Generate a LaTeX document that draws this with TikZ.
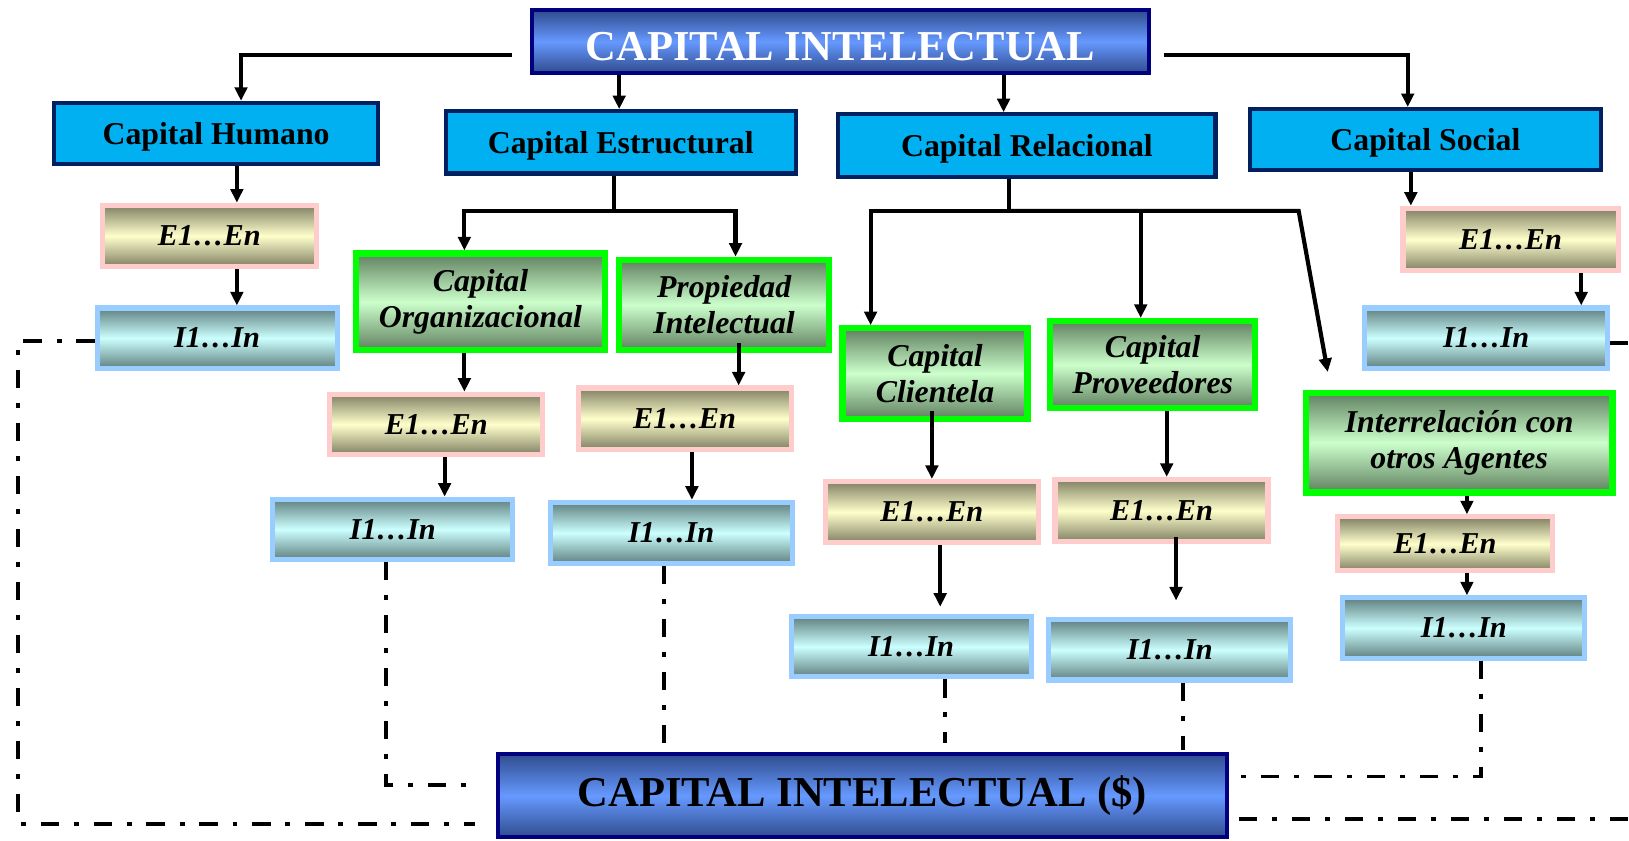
\documentclass[tikz,border=0pt]{standalone}
\usepackage{fontspec}
\setmainfont{Liberation Serif}
\usetikzlibrary{arrows.meta}

\definecolor{marino}{RGB}{0,0,128}
\definecolor{azulosc}{RGB}{48,76,142}
\definecolor{azulcl}{RGB}{102,153,255}
\definecolor{bordeazul}{RGB}{0,32,96}
\definecolor{cian}{RGB}{0,176,240}
\definecolor{verde}{RGB}{0,255,0}
\definecolor{verdeosc}{RGB}{96,128,96}
\definecolor{verdecl}{RGB}{204,255,204}
\definecolor{rosa}{RGB}{255,204,204}
\definecolor{oliva}{RGB}{128,128,100}
\definecolor{crema}{RGB}{255,255,204}
\definecolor{celeste}{RGB}{153,204,255}
\definecolor{grisazul}{RGB}{96,128,128}
\definecolor{aqua}{RGB}{204,255,255}

\begin{document}
\begin{tikzpicture}[
		x = 0.5pt, y = -0.5pt,
		caja/.style = {draw, inner sep = 0pt, align = center},
		titulo/.style = {caja, draw = marino, line width = 2pt, top color = azulosc, bottom color = azulosc, middle color = azulcl, font = \fontsize{20.5}{24}\selectfont\bfseries},
		rama/.style = {caja, draw = bordeazul, line width = 2pt, fill = cian, text depth = 0pt, font = \fontsize{15.3}{18}\selectfont\bfseries},
		sub/.style = {caja, draw = verde, line width = 3pt, top color = verdeosc, bottom color = verdeosc, middle color = verdecl, font = \fontsize{15.3}{17.5}\selectfont\bfseries\itshape},
		ecaja/.style = {caja, draw = rosa, line width = 2.5pt, top color = oliva, bottom color = oliva, middle color = crema, minimum width = 102.5pt, minimum height = 29.5pt, font = \fontsize{14.6}{17}\selectfont\bfseries\itshape},
		icaja/.style = {caja, draw = celeste, line width = 2.5pt, top color = grisazul, bottom color = grisazul, middle color = aqua, minimum width = 116pt, minimum height = 29pt, font = \fontsize{14.6}{17}\selectfont\bfseries\itshape},
		flecha/.style = {line width = 2pt, -{Triangle[length = 6.5pt, width = 6pt]}},
		linea/.style = {line width = 2pt},
		punteada/.style = {line width = 1.8pt, dash pattern = on 8.7pt off 7.2pt on 2.4pt off 7.2pt}
	]

	\useasboundingbox (0,0) rectangle (1568,809);
	\clip (0,0) rectangle (1568,809);

	\node[titulo, text = white, text height = 18.5pt, text depth = 0pt, minimum width = 297pt, minimum height = 30pt] (ci) at (809,40) {CAPITAL INTELECTUAL};

	\node[rama, minimum width = 156pt, minimum height = 29.5pt] (hum) at (208,128.5) {Capital Humano};
	\node[rama, minimum width = 168.5pt, minimum height = 30pt] (est) at (597.5,137) {Capital Estructural};
	\node[rama, minimum width = 181.5pt, minimum height = 30pt] (rel) at (988.5,140) {Capital Relacional};
	\node[rama, minimum width = 169pt, minimum height = 29.5pt] (soc) at (1372,134.5) {Capital Social};

	\node[sub, minimum width = 119.5pt, minimum height = 46.5pt] (org) at (462.5,290.5) {Capital\\Organizacional};
	\node[sub, minimum width = 101pt, minimum height = 43.5pt] (prop) at (697,293.5) {Propiedad\\Intelectual};
	\node[sub, minimum width = 89pt, minimum height = 43.5pt] (cli) at (900,359.5) {Capital\\Clientela};
	\node[sub, minimum width = 98.5pt, minimum height = 42pt] (prov) at (1109.5,351) {Capital\\Proveedores};
	\node[sub, minimum width = 147.5pt, minimum height = 48pt] (inter) at (1404.5,426) {Interrelación con\\otros Agentes};

	\node[ecaja, minimum width = 103pt] (eh) at (201.5,227) {E1…En};
	\node[ecaja, minimum height = 29pt] (eo) at (420,408.5) {E1…En};
	\node[ecaja] (ep) at (659,403) {E1…En};
	\node[ecaja] (ec) at (897,493) {E1…En};
	\node[ecaja, minimum height = 30pt] (ev) at (1118,491.5) {E1…En};
	\node[ecaja, minimum width = 103.5pt, minimum height = 26pt] (ea) at (1391,523.5) {E1…En};
	\node[ecaja, minimum width = 103.5pt, minimum height = 30pt] (es) at (1454,230.5) {E1…En};

	\node[icaja, minimum width = 115.5pt] (ih) at (209,325.5) {I1…In};
	\node[icaja, minimum width = 115.5pt] (io) at (378,509.5) {I1…In};
	\node[icaja, minimum width = 116.5pt, minimum height = 29.5pt] (ip) at (646,513) {I1…In};
	\node[icaja, minimum width = 115.5pt] (ic) at (877,622.5) {I1…In};
	\node[icaja, minimum width = 116.5pt] (iv) at (1126,625.5) {I1…In};
	\node[icaja, minimum width = 116.5pt] (ia) at (1409,604.5) {I1…In};
	\node[icaja, minimum width = 117pt] (is) at (1430.5,325.5) {I1…In};

	\node[titulo, minimum width = 351pt, minimum height = 40pt] (cid) at (830,766) {CAPITAL INTELECTUAL (\$)};

	\coordinate (uest) at (591,203);
	\coordinate (urel) at (971,203);
	\coordinate (krel) at (1250,203);
	\coordinate (esq) at (17,793);

	\draw[flecha, shorten <= 8.5pt] ([yshift = -6.5pt]ci.west) -| ([xshift = 12pt]hum.north);
	\draw[flecha, shorten <= 6pt] ([yshift = -6.5pt]ci.east) -| ([xshift = -8.5pt]soc.north);
	\draw[flecha] ([xshift = -106.5pt]ci.south) -- ([xshift = -0.75pt]est.north);
	\draw[flecha] ([xshift = 78.5pt]ci.south) -- ([xshift = -11.25pt]rel.north);

	\draw[linea] ([xshift = -3.25pt]est.south) -- (uest);
	\draw[flecha] (uest) -| ([xshift = -7.75pt]org.north);
	\draw[flecha] (uest) -| ([xshift = 5.5pt]prop.north);

	\draw[linea] ([xshift = -8.75pt]rel.south) -- (urel);
	\draw[flecha] (urel) -| ([xshift = -31pt]cli.north);
	\draw[flecha] (urel) -| ([xshift = -5.75pt]prov.north);
	\draw[flecha] (urel) -- (krel) -- ([xshift = -63.25pt, yshift = 8.5pt]inter.north);

	\draw[flecha] ([xshift = 10pt]hum.south) -- ([xshift = 13.25pt]eh.north);
	\draw[flecha] ([xshift = 13.25pt]eh.south) -- ([xshift = 9.5pt]ih.north);
	\draw[flecha] ([xshift = -7.75pt]org.south) -- ([xshift = 13.5pt]eo.north);
	\draw[flecha] ([xshift = 4pt]eo.south) -- ([xshift = 25pt]io.north);
	\draw[flecha] ([xshift = 7pt, yshift = 5pt]prop.south) -- ([xshift = 26pt]ep.north);
	\draw[flecha] ([xshift = 3.5pt]ep.south) -- ([xshift = 10pt]ip.north);
	\draw[flecha] ([xshift = -1.5pt, yshift = 5pt]cli.south) -- (ec.north);
	\draw[flecha] ([xshift = 4pt]ec.south) -- ([xshift = 14pt, yshift = 3.5pt]ic.north);
	\draw[flecha] ([xshift = 6.75pt]prov.south) -- ([xshift = 2.5pt]ev.north);
	\draw[flecha] ([xshift = 7pt, yshift = 3.5pt]ev.south) -- ([xshift = 3pt, yshift = 8pt]iv.north);
	\draw[flecha] ([xshift = 3.75pt]inter.south) -- ([xshift = 10.5pt]ea.north);
	\draw[flecha] ([xshift = 10.5pt]ea.south) -- ([xshift = 1.5pt]ia.north);
	\draw[flecha] ([xshift = -7pt]soc.south) -- ([xshift = -48pt]es.north);
	\draw[flecha] ([xshift = 34pt]es.south) -- ([xshift = 45.75pt]is.north);

	\draw[punteada, shorten >= 10pt] ([yshift = -1.25pt]ih.west) -| (esq) -- ([yshift = -13.5pt]cid.west);
	\draw[punteada, shorten >= 10pt] ([xshift = -3.25pt]io.south) |- ([yshift = 5.2pt]cid.west);
	\draw[punteada] ([xshift = -3.5pt]ip.south) -- ([xshift = -95.5pt, yshift = 4.5pt]cid.north);
	\draw[punteada] ([xshift = 16.25pt]ic.south) -- ([xshift = 39.75pt, yshift = 4.5pt]cid.north);
	\draw[punteada] ([xshift = 6.25pt]iv.south) -- ([xshift = 154.25pt, yshift = 1pt]cid.north);
	\draw[punteada] ([xshift = 8.25pt]ia.south) |- ([yshift = 9.25pt]cid.east);
	\draw[punteada] ([yshift = -2.25pt]is.east) -- ++(30pt,0) |- ([yshift = -11pt]cid.east);

\end{tikzpicture}
\end{document}
